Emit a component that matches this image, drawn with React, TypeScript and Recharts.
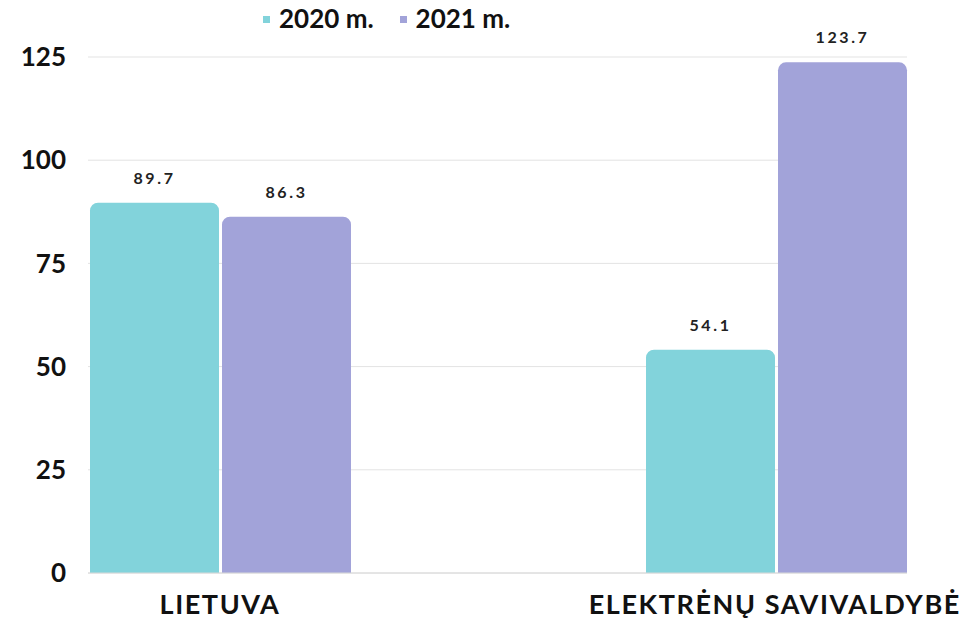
import { BarChart, Bar, XAxis, YAxis, CartesianGrid, LabelList } from 'recharts';

const regions = ['LIETUVA', 'ELEKTRĖNŲ SAVIVALDYBĖ'];
const values2020 = [89.7, 54.1];
const values2021 = [86.3, 123.7];
const yTicks = [0, 25, 50, 75, 100, 125];

const series = [
  { key: 'y2020', name: '2020 m.', color: '#82d3db' },
  { key: 'y2021', name: '2021 m.', color: '#a2a3d9' },
];

const data = regions.map((region, i) => ({
  region,
  y2020: values2020[i],
  y2021: values2021[i],
}));

const font = 'Lato, "Open Sans", sans-serif';

function SeriesLegend() {
  return (
    <div
      style={{
        position: 'absolute',
        top: 2,
        left: 263,
        display: 'flex',
        alignItems: 'center',
        fontFamily: font,
        fontWeight: 700,
        fontSize: 26,
        color: '#111',
      }}
    >
      {series.map((s) => (
        <div key={s.key} style={{ display: 'flex', alignItems: 'center', marginRight: 26 }}>
          <span style={{ width: 7, height: 7, background: s.color, marginRight: 9, marginTop: 2 }} />
          <span>{s.name}</span>
        </div>
      ))}
    </div>
  );
}

export default function App() {
  return (
    <div style={{ position: 'absolute', left: 0, top: 0, width: 967, height: 619, background: '#fff', overflow: 'hidden' }}>
      <BarChart
        width={967}
        height={619}
        data={data}
        margin={{ top: 57, right: 60, bottom: 0, left: 18 }}
        barSize={129}
        barGap={3}
      >
        <CartesianGrid vertical={false} stroke="#e3e3e3" />
        <XAxis
          dataKey="region"
          height={46}
          padding={{ left: -146, right: -147 }}
          axisLine={{ stroke: '#d8d8d8' }}
          tickLine={false}
          tickSize={0}
          tickMargin={22}
          tick={{ fill: '#111', fontSize: 27, fontWeight: 700, fontFamily: font, letterSpacing: 1.6 }}
        />
        <YAxis
          width={70}
          domain={[0, 125]}
          ticks={yTicks}
          axisLine={false}
          tickLine={false}
          tickSize={0}
          tickMargin={22}
          tick={{ fill: '#111', fontSize: 26, fontWeight: 700, fontFamily: font }}
        />
        {series.map((s) => (
          <Bar key={s.key} dataKey={s.key} name={s.name} fill={s.color} radius={[8, 8, 0, 0]} isAnimationActive={false}>
            <LabelList
              dataKey={s.key}
              position="top"
              offset={19}
              fill="#222"
              fontSize={16}
              fontWeight={700}
              fontFamily={font}
              letterSpacing={2.6}
            />
          </Bar>
        ))}
      </BarChart>
      <SeriesLegend />
    </div>
  );
}
